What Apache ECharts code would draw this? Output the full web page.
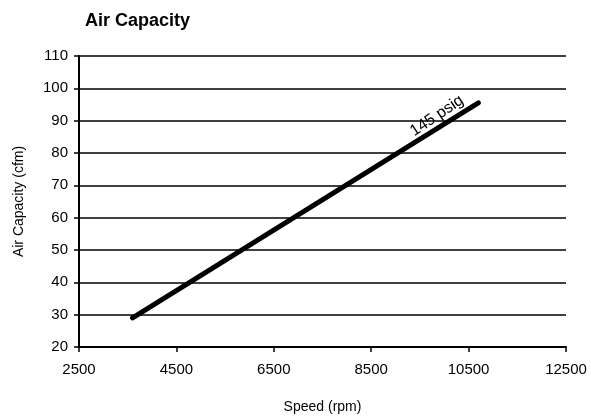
<!DOCTYPE html>
<html><head><meta charset="utf-8">
<script src="https://cdn.jsdelivr.net/npm/echarts@6/dist/echarts.min.js"></script>
<style>html,body{margin:0;padding:0;background:#fff}#c{width:591px;height:419px}</style>
</head><body><div id="c"></div>
<script>
var titleText = "Air Capacity";
var xName = "Speed (rpm)";
var yName = "Air Capacity (cfm)";
var seriesName = "145 psig";
var speeds = [3600, 10700];
var capacities = [29, 95.5];
var labelPoint = [9850, 91.5];

var chart = echarts.init(document.getElementById('c'));
var font = "'Liberation Sans', Arial, sans-serif";
chart.setOption({
  animation: false,
  title: { text: titleText, left: 80, top: 7,
    textStyle: { fontFamily: font, fontWeight: 'bold', fontSize: 18, color: '#000' } },
  grid: { left: 79, right: 25, top: 56, bottom: 72 },
  xAxis: {
    type: 'value', min: 2500, max: 12500, interval: 2000,
    name: xName, nameLocation: 'middle', nameGap: 53,
    nameTextStyle: { fontFamily: font, fontSize: 14, color: '#000' },
    axisLine: { show: true, lineStyle: { color: '#000', width: 2 } },
    axisTick: { show: true, length: 5, lineStyle: { color: '#000', width: 1.5 } },
    axisLabel: { fontFamily: font, fontSize: 15, color: '#000', margin: 15,
      formatter: function (v) { return String(v); } },
    splitLine: { show: false }
  },
  yAxis: {
    type: 'value', min: 20, max: 110, interval: 10,
    name: yName, nameLocation: 'middle', nameGap: 53,
    nameTextStyle: { fontFamily: font, fontSize: 14, color: '#000' },
    axisLine: { show: true, lineStyle: { color: '#000', width: 2 } },
    axisTick: { show: true, length: 5, lineStyle: { color: '#000', width: 1.5 } },
    axisLabel: { fontFamily: font, fontSize: 15, color: '#000', margin: 11 },
    splitLine: { show: true, lineStyle: { color: '#000', width: 1.5 } }
  },
  series: [{
    type: 'line', name: seriesName,
    data: speeds.map(function (s, i) { return [s, capacities[i]]; }),
    showSymbol: false, symbol: 'none',
    lineStyle: { color: '#000', width: 5, cap: 'round' },
    markPoint: {
      symbol: 'circle', symbolSize: 1,
      itemStyle: { color: 'rgba(0,0,0,0)' },
      data: [{ coord: labelPoint, value: seriesName }],
      label: { show: true, formatter: seriesName, rotate: 34, position: 'inside',
        fontFamily: font, fontSize: 16, color: '#000' }
    }
  }]
});
</script></body></html>
